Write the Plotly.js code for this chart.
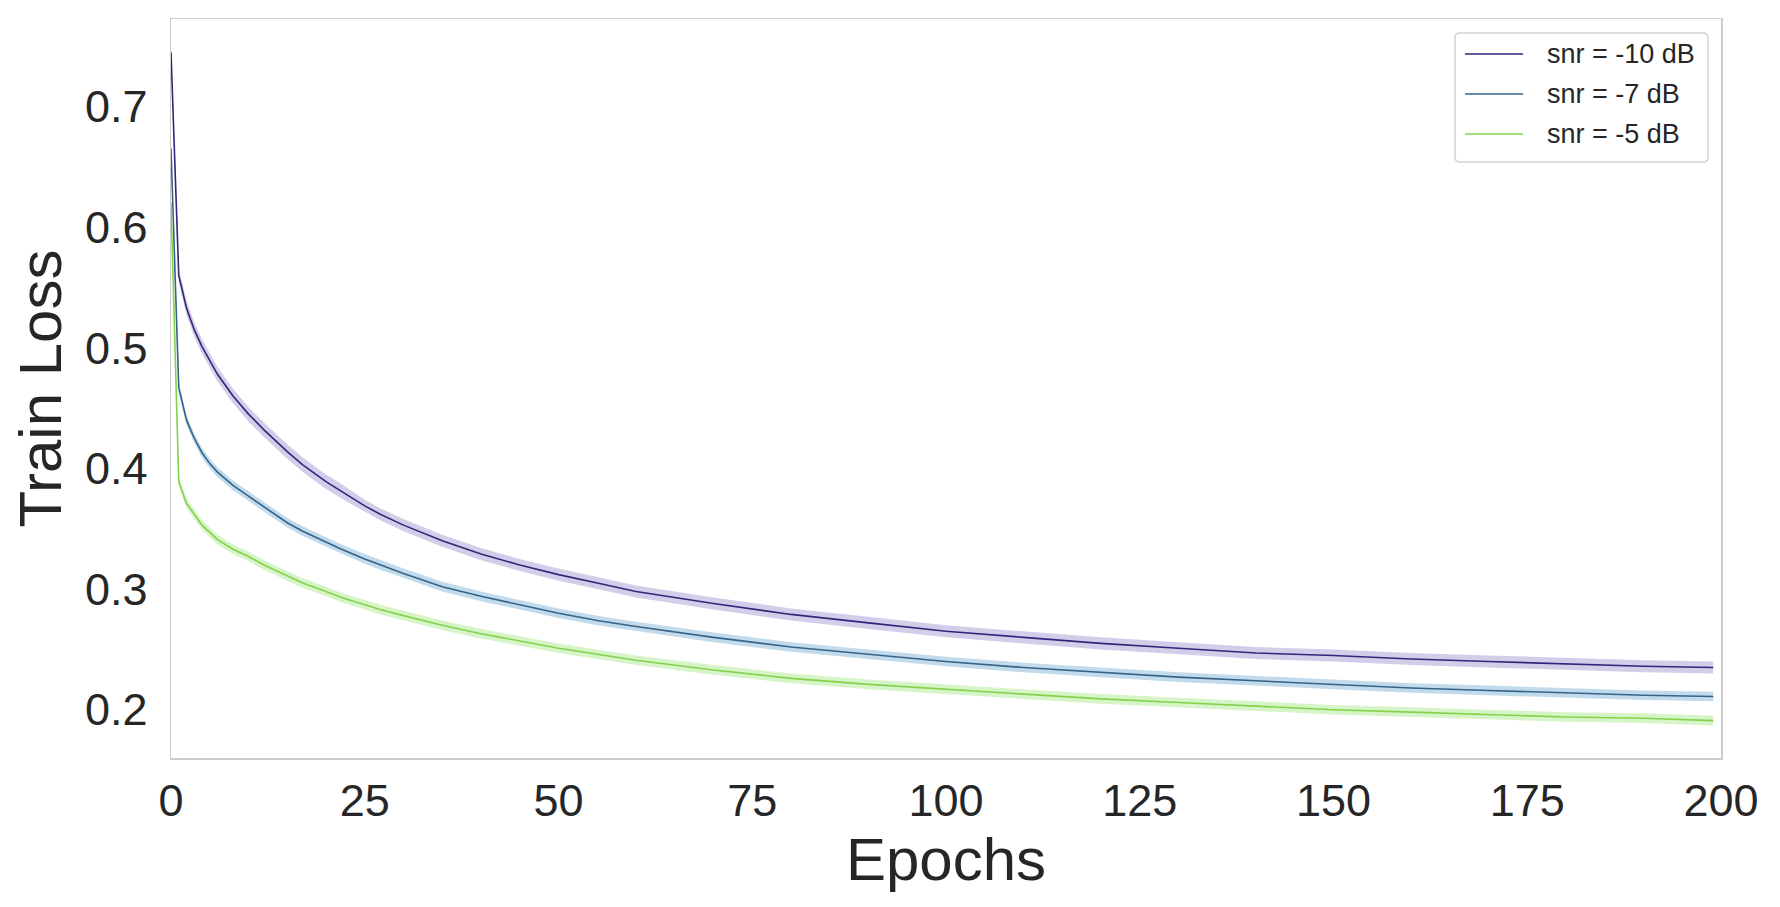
<!DOCTYPE html>
<html>
<head>
<meta charset="utf-8">
<script src="https://cdn.plot.ly/plotly-3.0.1.min.js"></script>
<style>html,body{margin:0;padding:0;background:#fff;}#chart{width:1780px;height:907px;}</style>
</head>
<body>
<div id="chart"></div>
<script>
const epochs = [0,1,2,3,4,5,6,8,10,12,15,17,20,22,25,27,30,35,40,45,50,55,60,70,80,90,100,110,120,130,140,150,160,170,180,190,199];

// Mean train loss per series
const lossSnrM10 = [0.745,0.560,0.533,0.515,0.501,0.489,0.478,0.460,0.445,0.432,0.414,0.403,0.389,0.381,0.369,0.362,0.353,0.340,0.329,0.320,0.312,0.305,0.298,0.288,0.279,0.272,0.265,0.260,0.255,0.251,0.247,0.245,0.242,0.240,0.238,0.236,0.235];
const lossSnrM7  = [0.665,0.467,0.440,0.425,0.413,0.404,0.397,0.386,0.377,0.368,0.355,0.348,0.339,0.333,0.325,0.320,0.313,0.302,0.294,0.287,0.280,0.274,0.269,0.260,0.252,0.246,0.240,0.235,0.231,0.227,0.224,0.221,0.218,0.216,0.214,0.212,0.211];
const lossSnrM5  = [0.620,0.389,0.371,0.362,0.353,0.347,0.341,0.333,0.327,0.320,0.311,0.305,0.298,0.293,0.287,0.283,0.278,0.270,0.263,0.257,0.251,0.246,0.241,0.233,0.226,0.221,0.217,0.213,0.209,0.206,0.203,0.200,0.198,0.196,0.194,0.193,0.191];

// Half-width of the shaded spread band per series
const bandSnrM10 = [0.006,0.006,0.006,0.006,0.006,0.006,0.006,0.006,0.006,0.006,0.006,0.006,0.006,0.006,0.005,0.005,0.005,0.005,0.005,0.005,0.005,0.005,0.005,0.005,0.005,0.005,0.005,0.005,0.005,0.005,0.005,0.005,0.005,0.005,0.005,0.005,0.005];
const bandSnrM7  = [0.004,0.004,0.004,0.004,0.004,0.004,0.004,0.004,0.004,0.004,0.004,0.004,0.004,0.004,0.004,0.004,0.004,0.004,0.004,0.004,0.004,0.004,0.004,0.004,0.004,0.004,0.004,0.004,0.004,0.004,0.004,0.004,0.004,0.004,0.004,0.004,0.004];
const bandSnrM5  = [0.004,0.004,0.004,0.004,0.004,0.004,0.004,0.004,0.004,0.004,0.004,0.004,0.004,0.004,0.004,0.004,0.004,0.004,0.004,0.004,0.004,0.004,0.004,0.004,0.004,0.004,0.004,0.004,0.004,0.004,0.004,0.004,0.004,0.004,0.004,0.004,0.004];

const seriesNames = ['snr = -10 dB','snr = -7 dB','snr = -5 dB'];
const xTicks = [0,25,50,75,100,125,150,175,200];
const yTicks = [0.2,0.3,0.4,0.5,0.6,0.7];

const series = [
  {name: seriesNames[0], y: lossSnrM10, band: bandSnrM10, line: '#30277a', fill: 'rgba(120,100,190,0.32)'},
  {name: seriesNames[1], y: lossSnrM7,  band: bandSnrM7,  line: '#366387', fill: 'rgba(110,170,210,0.42)'},
  {name: seriesNames[2], y: lossSnrM5,  band: bandSnrM5,  line: '#82d34c', fill: 'rgba(150,225,110,0.38)'}
];

const traces = [];
series.forEach(s => {
  const upper = s.y.map((v,i) => v + s.band[i]);
  const lower = s.y.map((v,i) => v - s.band[i]);
  traces.push({
    x: epochs.concat(epochs.slice().reverse()),
    y: upper.concat(lower.slice().reverse()),
    type: 'scatter', mode: 'lines', fill: 'toself',
    fillcolor: s.fill, line: {width: 0, color: 'rgba(0,0,0,0)'},
    showlegend: false, hoverinfo: 'skip'
  });
});
series.forEach(s => {
  traces.push({
    x: epochs, y: s.y, type: 'scatter', mode: 'lines', name: s.name,
    showlegend: false,
    line: {color: s.line, width: 1.6}
  });
});

const fontFam = 'Liberation Sans, Arial, sans-serif';

// Legend drawn in paper coordinates (styling only)
const lg = {x0: 0.8284, x1: 0.9916, y0: 0.8065, y1: 0.9811, rx: 0.0032, ry: 0.0068,
            lineX0: 0.8348, lineX1: 0.8723, textX: 0.8865, rowY: [0.9526, 0.8985, 0.8444]};
const boxPath = 'M' + (lg.x0+lg.rx) + ',' + lg.y0 + ' L' + (lg.x1-lg.rx) + ',' + lg.y0 +
  ' Q' + lg.x1 + ',' + lg.y0 + ' ' + lg.x1 + ',' + (lg.y0+lg.ry) +
  ' L' + lg.x1 + ',' + (lg.y1-lg.ry) + ' Q' + lg.x1 + ',' + lg.y1 + ' ' + (lg.x1-lg.rx) + ',' + lg.y1 +
  ' L' + (lg.x0+lg.rx) + ',' + lg.y1 + ' Q' + lg.x0 + ',' + lg.y1 + ' ' + lg.x0 + ',' + (lg.y1-lg.ry) +
  ' L' + lg.x0 + ',' + (lg.y0+lg.ry) + ' Q' + lg.x0 + ',' + lg.y0 + ' ' + (lg.x0+lg.rx) + ',' + lg.y0 + ' Z';
const shapes = [{type: 'path', xref: 'paper', yref: 'paper', path: boxPath,
                 fillcolor: 'rgba(255,255,255,0.85)', line: {color: '#d3d3d3', width: 1.5}}];
const annotations = [];
series.forEach((s, k) => {
  shapes.push({type: 'line', xref: 'paper', yref: 'paper', x0: lg.lineX0, x1: lg.lineX1,
               y0: lg.rowY[k], y1: lg.rowY[k], line: {color: s.line, width: 1.6}});
  annotations.push({xref: 'paper', yref: 'paper', x: lg.textX, y: lg.rowY[k], xanchor: 'left', yanchor: 'middle',
                    text: s.name, showarrow: false, font: {size: 27, family: fontFam, color: '#262626'}});
});

const layout = {
  width: 1780, height: 907,
  margin: {l: 171, r: 59, t: 19, b: 149, pad: 0},
  paper_bgcolor: '#fff', plot_bgcolor: '#fff',
  font: {family: fontFam, color: '#262626'},
  xaxis: {
    range: [0, 200], tickvals: xTicks, ticktext: xTicks.map(String),
    showgrid: false, zeroline: false, showline: true, linecolor: '#cccccc', linewidth: 1.5, mirror: true,
    ticks: '', tickfont: {size: 45, family: fontFam, color: '#262626'}, ticklabelstandoff: 2,
    title: {text: 'Epochs', font: {size: 60, family: fontFam, color: '#262626'}, standoff: 8}
  },
  yaxis: {
    range: [0.160, 0.7725], tickvals: yTicks, ticktext: yTicks.map(v => v.toFixed(1)),
    showgrid: false, zeroline: false, showline: true, linecolor: '#cccccc', linewidth: 1.5, mirror: true,
    ticks: '', tickfont: {size: 45, family: fontFam, color: '#262626'}, ticklabelstandoff: 13,
    title: {text: 'Train Loss', font: {size: 60, family: fontFam, color: '#262626'}, standoff: 4}
  },
  shapes: shapes,
  annotations: annotations,
  showlegend: false
};

Plotly.newPlot('chart', traces, layout, {displayModeBar: false, staticPlot: true});
</script>
</body>
</html>
